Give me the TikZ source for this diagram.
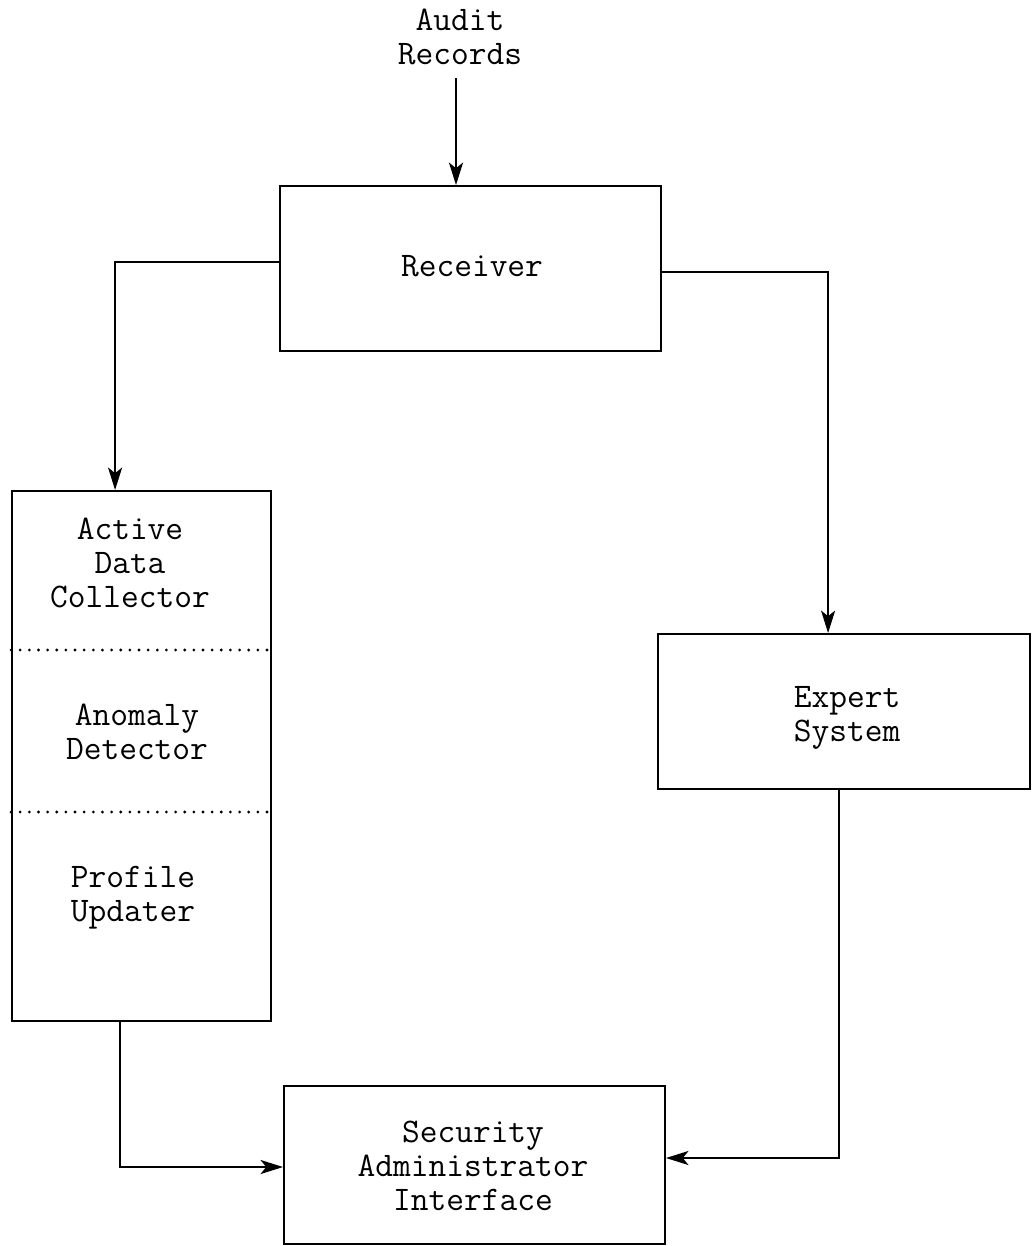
\documentclass[tikz,border=0pt]{standalone}
\usetikzlibrary{arrows.meta}

\tikzset{
  box/.style={draw,line width=1.3pt,inner sep=0pt},
  lbl/.style={font=\ttfamily\fontsize{24.5}{24}\selectfont,align=center},
  arr/.style={line width=1.3pt,-{Stealth[length=16pt,width=10pt,inset=4pt]}},
  sep/.style={line width=2.2pt,line cap=round,dash pattern=on 0pt off 6.5pt}
}

\begin{document}
\begin{tikzpicture}[x=0.025cm,y=-0.025cm]
  % Background
  \useasboundingbox (0,0) rectangle (1031,1246);

  % Input
  \node[lbl] (audit) at (460,37) {Audit\\Records};

  % Boxes
  \node[box,minimum width=9.525cm,minimum height=4.125cm] (rcv) at (470.5,268.5) {};
  \node[box,minimum width=6.475cm,minimum height=13.25cm] (adc) at (141.5,756) {};
  \node[box,minimum width=9.3cm,minimum height=3.875cm] (exp) at (844,711.5) {};
  \node[box,minimum width=9.525cm,minimum height=3.95cm] (sai) at (474.5,1165) {};

  % Separators in the left box
  \draw[sep] (adc.west |- 0,650) -- (adc.east |- 0,650);
  \draw[sep] (adc.west |- 0,812) -- (adc.east |- 0,812);

  % Labels
  \node[lbl] (rcvtxt) at (472,266) {Receiver};
  \node[lbl] (adctxt) at (130,563) {Active\\Data\\Collector};
  \node[lbl] (anotxt) at (137,732) {Anomaly\\Detector};
  \node[lbl] (putxt) at (133,898) {Profile\\Updater};
  \node[lbl] (exptxt) at (847,718) {Expert\\System};
  \node[lbl] (saitxt) at (473,1166) {Security\\Administrator\\Interface};

  % Arrows
  \draw[arr] (456,78) -- (456,0 |- rcv.north);
  \draw[arr] (rcv.west |- 0,262) -| ([xshift=2.6cm]adc.north west);
  \draw[arr] (rcv.east |- 0,272) -| ([xshift=4.275cm]exp.north west);
  \draw[arr] ([xshift=4.55cm]exp.south west) |- (sai.east |- 0,1158);
  \draw[arr] ([xshift=2.725cm]adc.south west) |- (sai.west |- 0,1167);

\end{tikzpicture}
\end{document}
